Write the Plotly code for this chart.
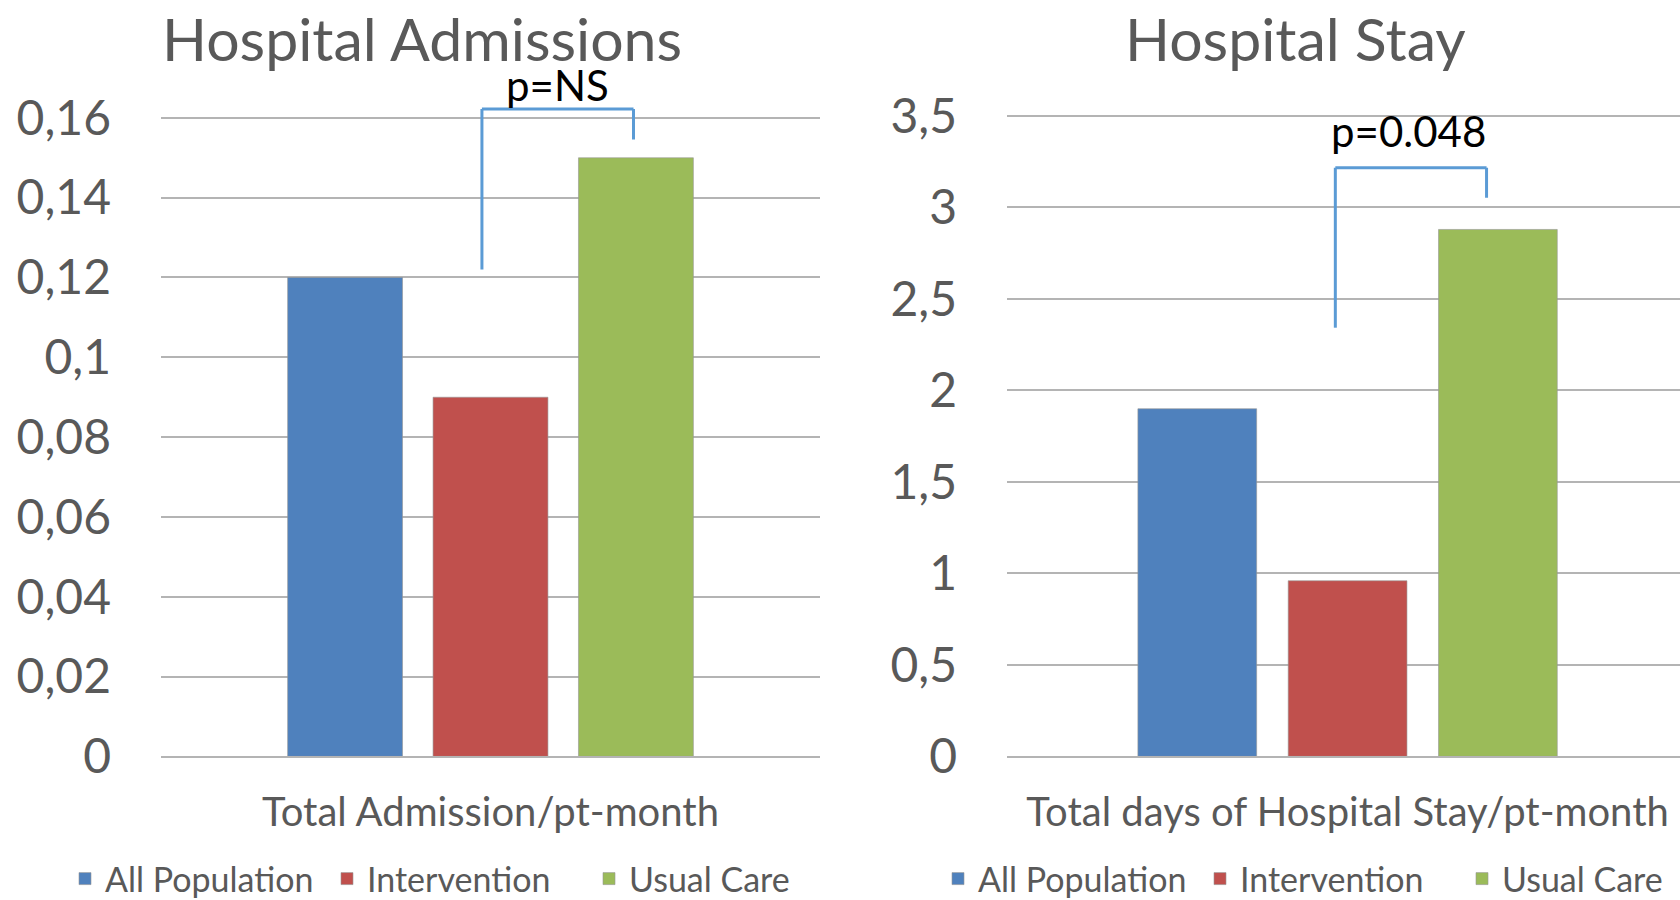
import plotly.graph_objects as go

# ---------------- data ----------------
series = ["All Population", "Intervention", "Usual Care"]
colors = ["#4F81BD", "#C0504D", "#9BBB59"]

adm_category = ["Total Admission/pt-month"]
adm_values = [0.12, 0.09, 0.15]
adm_ticks = [0, 0.02, 0.04, 0.06, 0.08, 0.10, 0.12, 0.14, 0.16]

stay_category = ["Total days of Hospital Stay/pt-month"]
stay_values = [1.90, 0.96, 2.88]
stay_ticks = [0, 0.5, 1.0, 1.5, 2.0, 2.5, 3.0, 3.5]

titles = ["Hospital Admissions", "Hospital Stay"]
p_labels = ["p=NS", "p=0.048"]

# ---------------- style ----------------
FONT = "Lato"
TXT = "#595959"
GRID = "#B4B4B4"
BRACKET = "#5B9BD5"
W, H = 1680, 900

fig = go.Figure()

for i, name in enumerate(series):
    fig.add_trace(go.Bar(
        x=adm_category, y=[adm_values[i]], name=name,
        marker=dict(color=colors[i], line=dict(color="rgba(150,150,150,0.6)", width=1)),
        xaxis="x", yaxis="y", legend="legend", hoverinfo="y+name"))
for i, name in enumerate(series):
    fig.add_trace(go.Bar(
        x=stay_category, y=[stay_values[i]], name=name,
        marker=dict(color=colors[i], line=dict(color="rgba(150,150,150,0.6)", width=1)),
        xaxis="x2", yaxis="y2", legend="legend2", hoverinfo="y+name"))


def px_x(p):
    return p / W


def px_y(p):
    return 1 - p / H


yaxis_common = dict(
    showgrid=True, gridcolor=GRID, gridwidth=2, zeroline=False,
    showline=False, ticks="", ticklabelstandoff=49,
    tickfont=dict(family=FONT, size=48, color=TXT), automargin=False,
)
xaxis_common = dict(
    showgrid=False, zeroline=False, showline=True, linecolor=GRID, linewidth=2,
    ticks="", ticklabelstandoff=20,
    tickfont=dict(family=FONT, size=40, color=TXT), automargin=False,
)
legend_common = dict(
    orientation="h", yanchor="middle", y=px_y(879), xanchor="left",
    entrywidth=217, entrywidthmode="pixels",
    font=dict(family=FONT, size=34, color=TXT), bgcolor="rgba(0,0,0,0)",
)

fig.update_layout(
    width=W, height=H,
    margin=dict(l=0, r=0, t=0, b=0, autoexpand=False),
    paper_bgcolor="white", plot_bgcolor="white",
    barmode="group", bargap=0.338, bargroupgap=0.21,
    separators=",.",
    font=dict(family=FONT, color=TXT),
    xaxis=dict(domain=[px_x(161), px_x(820)], range=[-0.5, 0.5], anchor="y", **xaxis_common),
    yaxis=dict(domain=[px_y(756.4), px_y(99.9)], range=[0, 0.1645], anchor="x",
               tickvals=adm_ticks, **yaxis_common),
    xaxis2=dict(domain=[px_x(1007), 1.0], range=[-0.5, 0.488], anchor="y2", **xaxis_common),
    yaxis2=dict(domain=[px_y(756.4), px_y(97.7)], range=[0, 3.6], anchor="x2",
                tickvals=stay_ticks, **yaxis_common),
    legend=dict(x=px_x(65), **legend_common),
    legend2=dict(x=px_x(938), **legend_common),
    showlegend=True,
)

# titles
for t, cx in zip(titles, [421.5, 1295]):
    fig.add_annotation(text=t, xref="paper", yref="paper", x=px_x(cx), y=px_y(38),
                       xanchor="center", yanchor="middle", showarrow=False,
                       font=dict(family=FONT, size=59, color=TXT))

# significance brackets (data coordinates)
brackets = [
    dict(xr="x", yr="y", x0=-0.013, x1=0.217, ytop=0.1622, yl=0.1220, yr_=0.1546,
         label=p_labels[0], lx=0.102, ly_px=85),
    dict(xr="x2", yr="y2", x0=-0.018, x1=0.204, ytop=3.217, yl=2.343, yr_=3.053,
         label=p_labels[1], lx=0.090, ly_px=131),
]
for b in brackets:
    line = dict(color=BRACKET, width=3)
    fig.add_shape(type="line", xref=b["xr"], yref=b["yr"], x0=b["x0"], x1=b["x0"],
                  y0=b["yl"], y1=b["ytop"], line=line)
    fig.add_shape(type="line", xref=b["xr"], yref=b["yr"], x0=b["x0"], x1=b["x1"],
                  y0=b["ytop"], y1=b["ytop"], line=line)
    fig.add_shape(type="line", xref=b["xr"], yref=b["yr"], x0=b["x1"], x1=b["x1"],
                  y0=b["ytop"], y1=b["yr_"], line=line)
    fig.add_annotation(text=b["label"], xref=b["xr"], yref="paper", x=b["lx"], y=px_y(b["ly_px"]),
                       xanchor="center", yanchor="middle", showarrow=False,
                       font=dict(family=FONT, size=42, color="black"))

# remove the default page margin so the 1680x900 figure fills the window exactly
fig.write_html("out.html", config={"displayModeBar": False},
               post_script="document.body.style.margin='0px';")
